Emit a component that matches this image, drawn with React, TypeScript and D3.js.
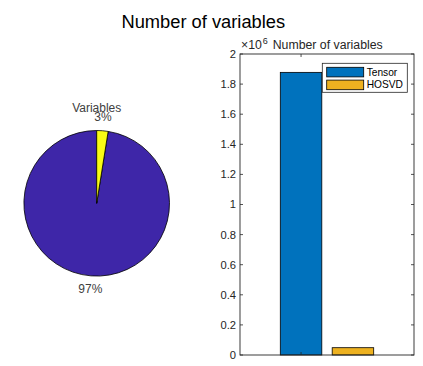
import React from "react";
import * as d3 from "d3";

const categories = ["Tensor", "HOSVD"];
const values = [1878000, 48500];
const pieColors = ["#3E26A8", "#F9FB15"];
const barColors = ["#0072BD", "#EDB120"];
const yTicks = [0, 0.2e6, 0.4e6, 0.6e6, 0.8e6, 1.0e6, 1.2e6, 1.4e6, 1.6e6, 1.8e6, 2.0e6];
const mainTitle = "Number of variables";
const pieTitle = "Variables";
const barTitle = "Number of variables";

const W = 423;
const H = 366;
const font = "Liberation Sans, Arial, Helvetica, sans-serif";
const txt = "#262626";

export default function App() {
  // pie
  const cx = 96.7, cy = 203.3, r = 72.8;
  const total = d3.sum(values);
  const pie = d3.pie<number>().sort(null).startAngle(2 * Math.PI).endAngle(0);
  const arcs = pie(values);
  const arcGen = d3.arc<d3.PieArcDatum<number>>().innerRadius(0).outerRadius(r);

  // bars
  const ax = { l: 240, r: 414, t: 54, b: 355 };
  const y = d3.scaleLinear().domain([0, 2e6]).range([ax.b, ax.t]);
  const x = d3.scaleBand<string>().domain(categories).range([280.3, 373.7]).paddingInner(0.2).paddingOuter(0);
  const tickLen = 3;
  const xTickPos = (x(categories[0]) as number) + x.bandwidth() / 2;

  return (
    <svg width={W} height={H} style={{ position: "absolute", left: 0, top: 0, background: "#fff" }} fontFamily={font}>
      <rect width={W} height={H} fill="#fff" />
      <text x={203.3} y={27.5} textAnchor="middle" fontSize={18.3} fill="#000">{mainTitle}</text>

      {/* pie */}
      <g transform={`translate(${cx},${cy})`}>
        {arcs.map((a, i) => (
          <path key={i} d={arcGen(a) as string} fill={pieColors[i]} stroke="#000" strokeWidth={0.8} />
        ))}
        {arcs.map((a, i) => {
          const mid = (a.startAngle + a.endAngle) / 2;
          const lx = 1.1 * r * Math.sin(mid);
          const ly = -1.1 * r * Math.cos(mid);
          const pct = Math.round((a.value / total) * 100) + "%";
          const above = ly < 0;
          return (
            <text key={i} x={lx} y={ly} dy={above ? "-0.2em" : "0.85em"} textAnchor="middle" fontSize={12} fill="#404040">{pct}</text>
          );
        })}
      </g>
      <text x={96.7} y={112} textAnchor="middle" fontSize={12} fill="#404040">{pieTitle}</text>

      {/* bar axes */}
      <text x={327.7} y={48.7} textAnchor="middle" fontSize={12.3} fill={txt}>{barTitle}</text>
      <text x={241} y={48.7} fontSize={12.3} fill={txt}>×10<tspan dx={1} dy={-5} fontSize={9}>6</tspan></text>
      {categories.map((c, i) => (
        <rect key={c} x={x(c)} y={y(values[i])} width={x.bandwidth()} height={y(0) - y(values[i])} fill={barColors[i]} stroke="#000" strokeWidth={0.8} />
      ))}
      <rect x={ax.l} y={ax.t} width={ax.r - ax.l} height={ax.b - ax.t} fill="none" stroke={txt} strokeWidth={0.9} />
      {yTicks.map((t) => (
        <g key={t}>
          <line x1={ax.l} x2={ax.l + tickLen} y1={y(t)} y2={y(t)} stroke={txt} strokeWidth={0.8} />
          <line x1={ax.r} x2={ax.r - tickLen} y1={y(t)} y2={y(t)} stroke={txt} strokeWidth={0.8} />
          <text x={ax.l - 4} y={y(t)} dy="0.35em" textAnchor="end" fontSize={11.2} fill={txt}>{d3.format("~g")(t / 1e6)}</text>
        </g>
      ))}
      <line x1={xTickPos} x2={xTickPos} y1={ax.b} y2={ax.b - tickLen} stroke={txt} strokeWidth={0.8} />
      <line x1={xTickPos} x2={xTickPos} y1={ax.t} y2={ax.t + tickLen} stroke={txt} strokeWidth={0.8} />

      {/* legend */}
      <rect x={322.3} y={63.3} width={85} height={29} fill="#fff" stroke={txt} strokeWidth={0.8} />
      {categories.map((c, i) => (
        <g key={c}>
          <rect x={326.7} y={67.3 + i * 12.8} width={37} height={9.6} fill={barColors[i]} stroke="#000" strokeWidth={0.8} />
          <text x={366.7} y={72.1 + i * 12.8} dy="0.35em" fontSize={10.2} fill="#000">{c}</text>
        </g>
      ))}
    </svg>
  );
}
